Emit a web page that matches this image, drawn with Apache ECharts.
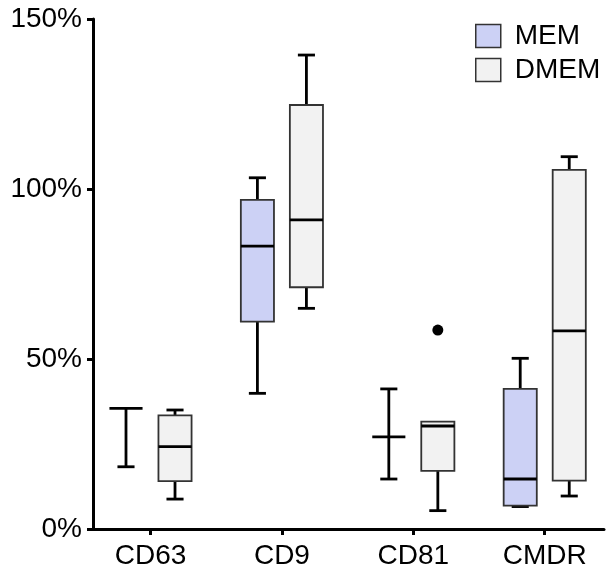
<!DOCTYPE html>
<html>
<head>
<meta charset="utf-8">
<script src="https://cdn.jsdelivr.net/npm/echarts@6/dist/echarts.min.js"></script>
<style>
html,body{margin:0;padding:0;background:#fff;}
#chart{width:606px;height:571px;}
</style>
</head>
<body>
<div id="chart"></div>
<script>
// ---- data ----
const categories = ['CD63', 'CD9', 'CD81', 'CMDR'];
const seriesNames = ['MEM', 'DMEM'];
const yTicks = [0, 50, 100, 150];
// [min, Q1, median, Q3, max] in %
const memBoxes = [
  [18.3, 35.5, 35.5, 35.5, 35.5],
  [39.9, 61.0, 83.2, 96.8, 103.3],
  [14.7, 27.1, 27.1, 27.1, 41.2],
  [6.6, 6.9, 14.7, 41.2, 50.2]
];
const dmemBoxes = [
  [8.8, 14.1, 24.2, 33.4, 35.0],
  [64.9, 71.1, 90.9, 124.7, 139.4],
  [5.4, 17.1, 30.3, 31.6, 31.6],
  [9.7, 14.2, 58.3, 105.6, 109.5]
];
// [category index, value]
const dmemOutliers = [[2, 58.5]];

// ---- style ----
const FONT = "'Liberation Sans', Arial, sans-serif";
const OFFSET = 0.1865;
const BOX_HALF = 0.126;
const CAP_HALF = 0.065;
const colors = { MEM: '#ccd1f5', DMEM: '#f2f2f2' };

function boxRender(offset, fill) {
  return function (params, api) {
    const x = api.value(0) + offset;
    const band = api.size([1, 0])[0];
    const bh = band * BOX_HALF, ch = band * CAP_HALF;
    const p = (v) => api.coord([x, v]);
    const pMin = p(api.value(1)), pQ1 = p(api.value(2)), pMed = p(api.value(3)),
          pQ3 = p(api.value(4)), pMax = p(api.value(5));
    const cx = pMed[0];
    const lineStyle = { stroke: '#000', lineWidth: 2.8 };
    const children = [];
    if (api.value(5) > api.value(4)) {
      children.push({ type: 'line', shape: { x1: cx, y1: pQ3[1], x2: cx, y2: pMax[1] }, style: lineStyle });
      children.push({ type: 'line', shape: { x1: cx - ch, y1: pMax[1], x2: cx + ch, y2: pMax[1] }, style: lineStyle });
    }
    if (api.value(1) < api.value(2)) {
      children.push({ type: 'line', shape: { x1: cx, y1: pQ1[1], x2: cx, y2: pMin[1] }, style: lineStyle });
      children.push({ type: 'line', shape: { x1: cx - ch, y1: pMin[1], x2: cx + ch, y2: pMin[1] }, style: lineStyle });
    }
    if (api.value(4) > api.value(2)) {
      children.push({ type: 'rect', shape: { x: cx - bh, y: pQ3[1], width: 2 * bh, height: pQ1[1] - pQ3[1] },
        style: { fill: fill, stroke: '#333', lineWidth: 1.8 } });
    }
    children.push({ type: 'line', shape: { x1: cx - bh, y1: pMed[1], x2: cx + bh, y2: pMed[1] }, style: { stroke: '#000', lineWidth: 2.8 } });
    return { type: 'group', children: children };
  };
}

const chart = echarts.init(document.getElementById('chart'), null, { renderer: 'canvas' });
const axisLineStyle = { color: '#000', width: 3 };
const option = {
  animation: false,
  backgroundColor: '#fff',
  textStyle: { fontFamily: FONT },
  grid: { left: 93, right: 2, top: 19, bottom: 42, containLabel: false },
  legend: {
    orient: 'vertical',
    left: 475,
    top: 22,
    padding: 0,
    itemWidth: 25,
    itemHeight: 23,
    itemGap: 6,
    icon: 'rect',
    textStyle: { fontSize: 28, color: '#000', fontFamily: FONT, padding: [0, 0, 0, 9] },
    data: seriesNames.map(n => ({ name: n, itemStyle: { color: colors[n], borderColor: '#333', borderWidth: 1.5 } }))
  },
  xAxis: {
    type: 'value',
    min: -0.4376,
    max: 3.451,
    splitLine: { show: false },
    axisLine: { show: true, onZero: false, lineStyle: axisLineStyle },
    axisTick: { show: true, customValues: categories.map((c, i) => i), length: 6, lineStyle: { color: '#000', width: 3 } },
    axisLabel: {
      customValues: categories.map((c, i) => i),
      formatter: (v) => categories[Math.round(v)],
      fontSize: 28, color: '#000', fontFamily: FONT, margin: 13
    }
  },
  yAxis: {
    type: 'value',
    min: yTicks[0],
    max: yTicks[yTicks.length - 1],
    interval: 50,
    splitLine: { show: false },
    axisLine: { show: true, onZero: false, lineStyle: axisLineStyle },
    axisTick: { show: true, length: 6, lineStyle: { color: '#000', width: 3 } },
    axisLabel: { formatter: '{value}%', fontSize: 28, color: '#000', fontFamily: FONT, margin: 11 }
  },
  series: [
    {
      name: 'MEM', type: 'custom',
      itemStyle: { color: colors.MEM },
      renderItem: boxRender(-OFFSET, colors.MEM),
      encode: { x: 0, y: [1, 2, 3, 4, 5] },
      data: memBoxes.map((b, i) => [i].concat(b))
    },
    {
      name: 'DMEM', type: 'custom',
      itemStyle: { color: colors.DMEM },
      renderItem: boxRender(OFFSET, colors.DMEM),
      encode: { x: 0, y: [1, 2, 3, 4, 5] },
      data: dmemBoxes.map((b, i) => [i].concat(b))
    },
    {
      name: 'DMEM outliers', type: 'scatter',
      symbol: 'circle', symbolSize: 11,
      itemStyle: { color: '#000', opacity: 1 },
      data: dmemOutliers.map(o => [o[0] + OFFSET, o[1]])
    }
  ]
};
chart.setOption(option);
</script>
</body>
</html>
